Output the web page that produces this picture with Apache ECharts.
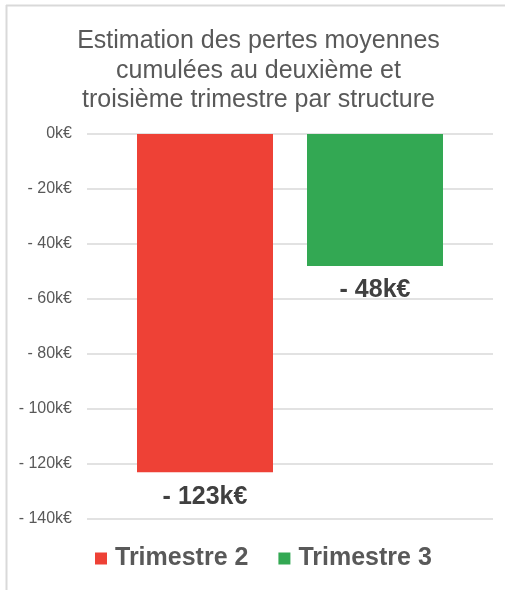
<!DOCTYPE html>
<html>
<head>
<meta charset="utf-8">
<script src="https://cdn.jsdelivr.net/npm/echarts@6/dist/echarts.min.js"></script>
<style>html,body{margin:0;padding:0;background:#fff}#c{width:505px;height:590px}</style>
</head>
<body>
<div id="c"></div>
<script>
const titleText = "Estimation des pertes moyennes\ncumulées au deuxième et\ntroisième trimestre par structure";
const categories = [""];
const seriesNames = ["Trimestre 2", "Trimestre 3"];
const trimestre2 = [-123];
const trimestre3 = [-48];
const colors = ["#EE4136", "#33A853"];
const yMin = -140, yMax = 0, yStep = 20;

function fmtK(v) {
  return v === 0 ? "0k€" : "- " + Math.abs(v) + "k€";
}
const FONT = 'Liberation Sans, Arial, sans-serif';
const chart = echarts.init(document.getElementById('c'), null, {renderer: 'canvas'});
const labelStyle = {
  show: true, position: 'bottom', distance: 12,
  fontFamily: FONT, fontSize: 25, fontWeight: 'bold',
  color: '#404040', formatter: p => fmtK(p.value)
};
chart.setOption({
  animation: false,
  backgroundColor: '#fff',
  title: {
    text: titleText, left: 253.5, textAlign: 'center', top: 21.5, padding: 5,
    textStyle: {fontFamily: FONT, fontSize: 25, fontWeight: 'normal', color: '#595959', lineHeight: 29.5}
  },
  graphic: [
    {type: 'line', shape: {x1: 6, y1: 5.5, x2: 505, y2: 5.5}, style: {stroke: '#d9d9d9', lineWidth: 2}},
    {type: 'line', shape: {x1: 6.5, y1: 5, x2: 6.5, y2: 590}, style: {stroke: '#d9d9d9', lineWidth: 2}}
  ],
  legend: {
    top: 541, left: 90, itemWidth: 12, itemHeight: 12, itemGap: 30,
    icon: 'rect',
    textStyle: {fontFamily: FONT, fontSize: 25, fontWeight: 'bold', color: '#595959', padding: [0, 0, 0, 3]},
    data: seriesNames
  },
  grid: {left: 87, right: 12, top: 134, bottom: 71, containLabel: false},
  xAxis: {
    type: 'category', data: categories,
    axisLine: {show: false}, axisTick: {show: false}, axisLabel: {show: false}
  },
  yAxis: {
    type: 'value', min: yMin, max: yMax, interval: yStep,
    axisLine: {show: false}, axisTick: {show: false},
    axisLabel: {formatter: fmtK, fontFamily: FONT, fontSize: 16, color: '#595959', margin: 15},
    splitLine: {lineStyle: {color: '#d9d9d9', width: 1.5}}
  },
  series: [
    {name: seriesNames[0], type: 'bar', data: trimestre2, barWidth: 136, barGap: '25%', itemStyle: {color: colors[0]}, label: labelStyle},
    {name: seriesNames[1], type: 'bar', data: trimestre3, barWidth: 136, barGap: '25%', itemStyle: {color: colors[1]}, label: labelStyle}
  ]
});
</script>
</body>
</html>
